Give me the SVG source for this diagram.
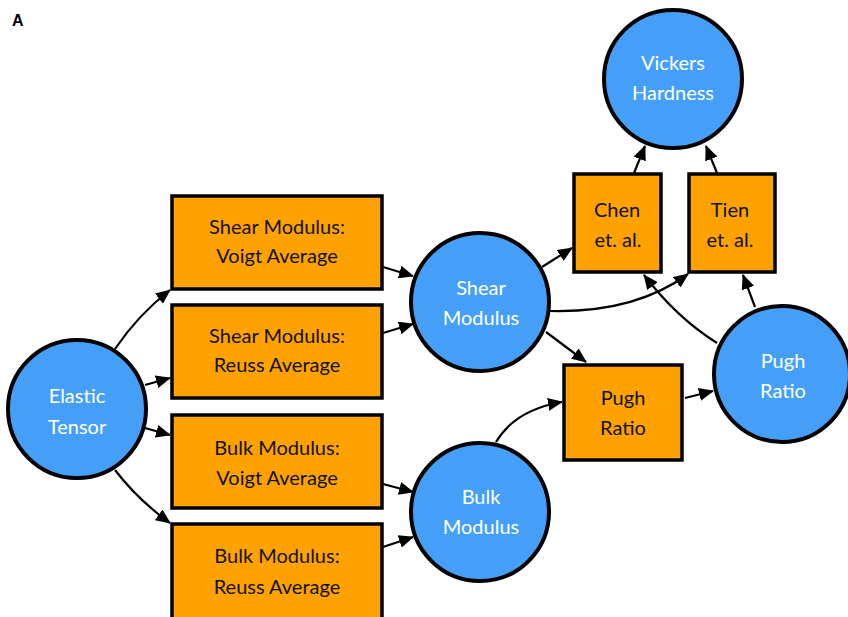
<svg xmlns="http://www.w3.org/2000/svg" width="848" height="617" viewBox="0 0 848 617">
<defs>
<marker id="ah" markerWidth="15" markerHeight="13" refX="14" refY="6.5" orient="auto" markerUnits="userSpaceOnUse">
<path d="M0,0 L15,6.5 L0,13 Z" fill="#000"/>
</marker>
<style>
.c{fill:#469FF7;stroke:#000;stroke-width:4}
.b{fill:#FFA200;stroke:#000;stroke-width:3.5}
.tw{font-family:Lato,"Liberation Sans",sans-serif;font-size:20px;fill:#fff;text-anchor:middle}
.tb{font-family:Lato,"Liberation Sans",sans-serif;font-size:20px;fill:#111;text-anchor:middle}
.e{fill:none;stroke:#000;stroke-width:2.2;marker-end:url(#ah)}
</style>
</defs>
<rect width="848" height="617" fill="#fff"/>
<text x="12" y="26" font-family="'Liberation Sans',Arial,sans-serif" font-weight="bold" font-size="16" fill="#000">A</text>
<g id="edges">
<path class="e" d="M115,349 Q138,315 170,290"/>
<path class="e" d="M145,385 L170,378"/>
<path class="e" d="M145,428 L170,435"/>
<path class="e" d="M115,470 Q138,500 170,523"/>
<path class="e" d="M383,267 L413,276"/>
<path class="e" d="M383,333 L413,324"/>
<path class="e" d="M383,484 L413,492"/>
<path class="e" d="M383,547 L413,537"/>
<path class="e" d="M542,267 L572,248"/>
<path class="e" d="M550,311 Q635,313 688,274"/>
<path class="e" d="M546,332 L586,362"/>
<path class="e" d="M496,442 Q515,410 562,402"/>
<path class="e" d="M685,398 L713,391"/>
<path class="e" d="M717,343 Q677,318 644,275"/>
<path class="e" d="M755,307 L743,275"/>
<path class="e" d="M634,173 L645,146"/>
<path class="e" d="M717,173 L706,146"/>
</g>
<g id="elastic"><circle class="c" cx="77" cy="409" r="69"/><text class="tw" x="77" y="403">Elastic</text><text class="tw" x="77" y="434">Tensor</text></g>
<g id="shear-voigt"><rect class="b" x="172" y="196" width="210" height="93"/><text class="tb" x="277" y="234">Shear Modulus:</text><text class="tb" x="277" y="263">Voigt Average</text></g>
<g id="shear-reuss"><rect class="b" x="172" y="305" width="210" height="93"/><text class="tb" x="277" y="343">Shear Modulus:</text><text class="tb" x="277" y="372">Reuss Average</text></g>
<g id="bulk-voigt"><rect class="b" x="172" y="415" width="210" height="93"/><text class="tb" x="277" y="455">Bulk Modulus:</text><text class="tb" x="277" y="485">Voigt Average</text></g>
<g id="bulk-reuss"><rect class="b" x="172" y="524" width="210" height="100"/><text class="tb" x="277" y="563">Bulk Modulus:</text><text class="tb" x="277" y="594">Reuss Average</text></g>
<g id="shear-modulus"><circle class="c" cx="480" cy="302" r="69"/><text class="tw" x="481" y="295">Shear</text><text class="tw" x="481" y="325">Modulus</text></g>
<g id="bulk-modulus"><circle class="c" cx="480" cy="512" r="69"/><text class="tw" x="481" y="504">Bulk</text><text class="tw" x="481" y="534">Modulus</text></g>
<g id="vickers"><circle class="c" cx="673" cy="79" r="69"/><text class="tw" x="673" y="70">Vickers</text><text class="tw" x="673" y="100">Hardness</text></g>
<g id="chen"><rect class="b" x="574" y="174" width="87" height="98"/><text class="tb" x="617" y="217">Chen</text><text class="tb" x="618" y="247">et. al.</text></g>
<g id="tien"><rect class="b" x="689" y="174" width="86" height="98"/><text class="tb" x="730" y="217">Tien</text><text class="tb" x="730" y="247">et. al.</text></g>
<g id="pugh-box"><rect class="b" x="564" y="365" width="118" height="95"/><text class="tb" x="623" y="405">Pugh</text><text class="tb" x="623" y="435">Ratio</text></g>
<g id="pugh-circle"><circle class="c" cx="782" cy="374" r="68"/><text class="tw" x="783" y="368">Pugh</text><text class="tw" x="783" y="398">Ratio</text></g>
</svg>
